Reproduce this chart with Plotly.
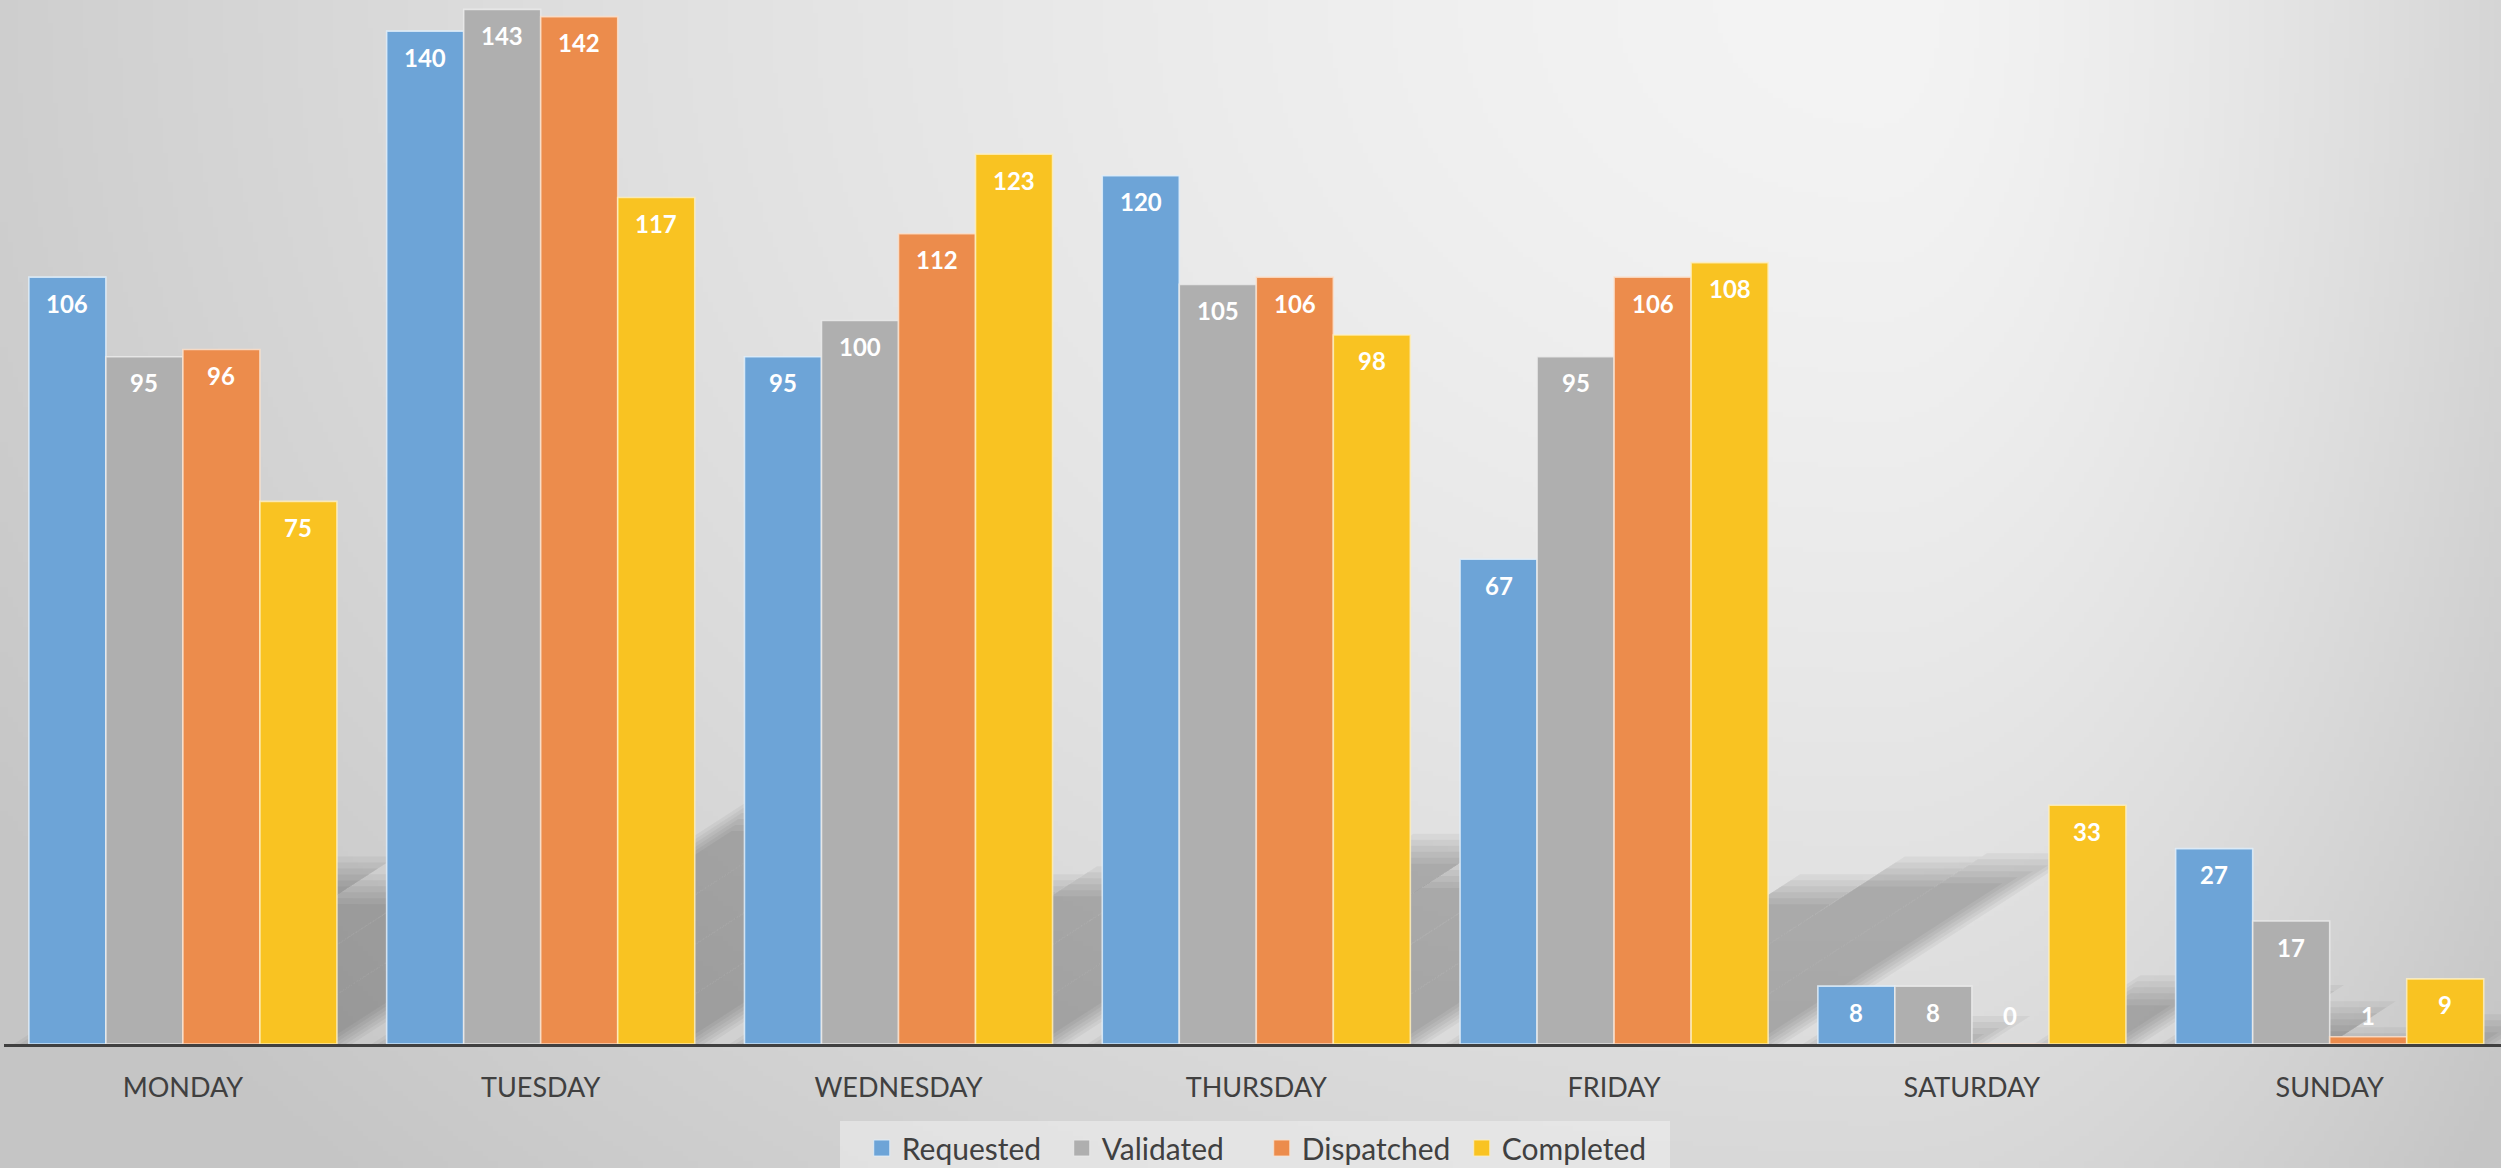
import base64
import struct
import zlib

import numpy as np
import plotly.graph_objects as go

# ---------------- data ----------------
days = ["MONDAY", "TUESDAY", "WEDNESDAY", "THURSDAY", "FRIDAY", "SATURDAY", "SUNDAY"]
series_names = ["Requested", "Validated", "Dispatched", "Completed"]
requested = [106, 140, 95, 120, 67, 8, 27]
validated = [95, 143, 100, 105, 95, 8, 17]
dispatched = [96, 142, 112, 106, 106, 0, 1]
completed = [75, 117, 123, 98, 108, 33, 9]
series_values = [requested, validated, dispatched, completed]

# ---------------- style / geometry ----------------
colors = ["#6DA4D7", "#AFAFAF", "#EC8C4C", "#F9C322"]
edge_colors = ["rgba(225,238,250,0.85)", "rgba(235,235,235,0.85)",
               "rgba(250,225,205,0.85)", "rgba(253,238,190,0.85)"]
FONT = "Lato, 'Open Sans', 'DejaVu Sans', sans-serif"
TXT = "#404040"

W, H = 2501, 1168
ML, MR, MT, MB = 4, 0, 0, 124
PW, PH = W - ML - MR, H - MT - MB
PITCH = 357.8                     # px per category
XR = [-0.5, -0.5 + PW / PITCH]
YMAX = 144.3
YPX = PH / YMAX                   # px per data unit
BARGAP = 0.139
BW = (1 - BARGAP) / 4             # bar width in category units


def offset(k):
    return -(1 - BARGAP) / 2 + (k + 0.5) * BW


# ---------------- background gradient image ----------------
def make_png_gray(arr):
    h, w = arr.shape
    raw = b"".join(b"\x00" + arr[r].tobytes() for r in range(h))

    def chunk(tag, data):
        c = struct.pack(">I", len(data)) + tag + data
        return c + struct.pack(">I", zlib.crc32(tag + data) & 0xFFFFFFFF)

    ihdr = struct.pack(">IIBBBBB", w, h, 8, 0, 0, 0, 0)
    return (b"\x89PNG\r\n\x1a\n" + chunk(b"IHDR", ihdr)
            + chunk(b"IDAT", zlib.compress(raw, 9)) + chunk(b"IEND", b""))


gw, gh = 500, 234
gx = (np.arange(gw) + 0.5) * W / gw
gy = (np.arange(gh) + 0.5) * H / gh
XX, YY = np.meshgrid(gx, gy)
cx, cy = 1880.0, 0.0
sx = np.where(XX < cx, 1900.0, 720.0)
d = np.sqrt(((XX - cx) / sx) ** 2 + ((YY - cy) / 1450.0) ** 2)
d = np.clip(d, 0, 1.15)
lum = 244 - 38 * d ** 1.5
img = np.clip(lum, 0, 255).astype(np.uint8)
bg_uri = "data:image/png;base64," + base64.b64encode(make_png_gray(img)).decode()

fig = go.Figure()

# ---------------- bars ----------------
for k, (name, vals) in enumerate(zip(series_names, series_values)):
    fig.add_trace(go.Bar(
        x=days, y=vals, name=name, showlegend=False,
        marker=dict(color=colors[k], line=dict(color=edge_colors[k], width=1.6)),
        hoverinfo="x+y+name",
    ))

# legend entries (larger square symbols)
for k, name in enumerate(series_names):
    fig.add_trace(go.Scatter(
        x=[None], y=[None], mode="markers", name=name,
        marker=dict(symbol="square", size=16, color=colors[k],
                    line=dict(color=edge_colors[k], width=1)),
    ))

# ---------------- soft perspective shadows ----------------
SQUASH, SHEAR = 0.225, 1.55
shapes = []
for k, vals in enumerate(series_values):
    for i, v in enumerate(vals):
        if v <= 0:
            continue
        x0 = i + offset(k) - BW / 2
        x1 = x0 + BW
        hs = SQUASH * v
        left_open = k == 0 or series_values[k - 1][i] == 0
        right_open = k == 3 or series_values[k + 1][i] == 0
        for e in (-15, -9, -3, 3, 9, 15):
            exl = e / PITCH if left_open else 0
            exr = e / PITCH if right_open else 0
            top = hs + e / YPX
            if top <= 0:
                continue
            st = SHEAR * top * YPX / PITCH
            path = (f"M{x0 - exl},0 L{x1 + exr},0 L{x1 + exr + st},{top} "
                    f"L{x0 - exl + st},{top} Z")
            shapes.append(dict(type="path", path=path, xref="x", yref="y",
                               fillcolor="black", opacity=0.045,
                               line=dict(width=0), layer="below"))

# legend panel (wider than plotly's own legend box)
LEG_X0, LEG_X1, LEG_Y0 = 840, 1670, 1121
shapes.append(dict(type="rect", xref="paper", yref="paper",
                   x0=(LEG_X0 - ML) / PW, x1=(LEG_X1 - ML) / PW,
                   y0=(PH - (H - MT)) / PH, y1=(PH - (LEG_Y0 - MT)) / PH,
                   fillcolor="rgba(240,240,240,0.55)", line=dict(width=0),
                   layer="below"))

# ---------------- data labels ----------------
annotations = []
for k, vals in enumerate(series_values):
    for i, v in enumerate(vals):
        annotations.append(dict(
            x=i + offset(k), y=max(v - 26 / YPX, 29 / YPX), xref="x", yref="y",
            text=str(v), showarrow=False, xanchor="center", yanchor="middle",
            font=dict(family=FONT, size=24, color="white", weight="bold"),
        ))

fig.update_layout(
    width=W, height=H,
    margin=dict(l=ML, r=MR, t=MT, b=MB, pad=0),
    paper_bgcolor="#d6d6d6",
    plot_bgcolor="rgba(0,0,0,0)",
    barmode="group", bargap=BARGAP, bargroupgap=0,
    font=dict(family=FONT, color=TXT),
    images=[dict(source=bg_uri, xref="paper", yref="paper",
                 x=-ML / PW, y=1 + MT / PH, sizex=W / PW, sizey=H / PH,
                 xanchor="left", yanchor="top", sizing="stretch", layer="below")],
    shapes=shapes,
    annotations=annotations,
    xaxis=dict(type="category", range=XR, showgrid=False, zeroline=False,
               showline=True, linecolor=TXT, linewidth=3,
               ticks="outside", ticklen=18, tickcolor="rgba(0,0,0,0)",
               tickfont=dict(family=FONT, size=27, color=TXT)),
    yaxis=dict(range=[0, YMAX], visible=False, showgrid=False, zeroline=False),
    legend=dict(orientation="h", xref="container", yref="container",
                x=0.5045, xanchor="center", y=0.0171, yanchor="middle",
                bgcolor="rgba(0,0,0,0)", entrywidth=155,
                font=dict(family=FONT, size=30, color=TXT),
                itemclick=False, itemdoubleclick=False),
    showlegend=True,
)

fig.write_html(
    "out.html",
    config={"displayModeBar": False},
    post_script="document.body.style.margin='0';document.body.style.padding='0';"
                "document.body.style.overflow='hidden';",
)
